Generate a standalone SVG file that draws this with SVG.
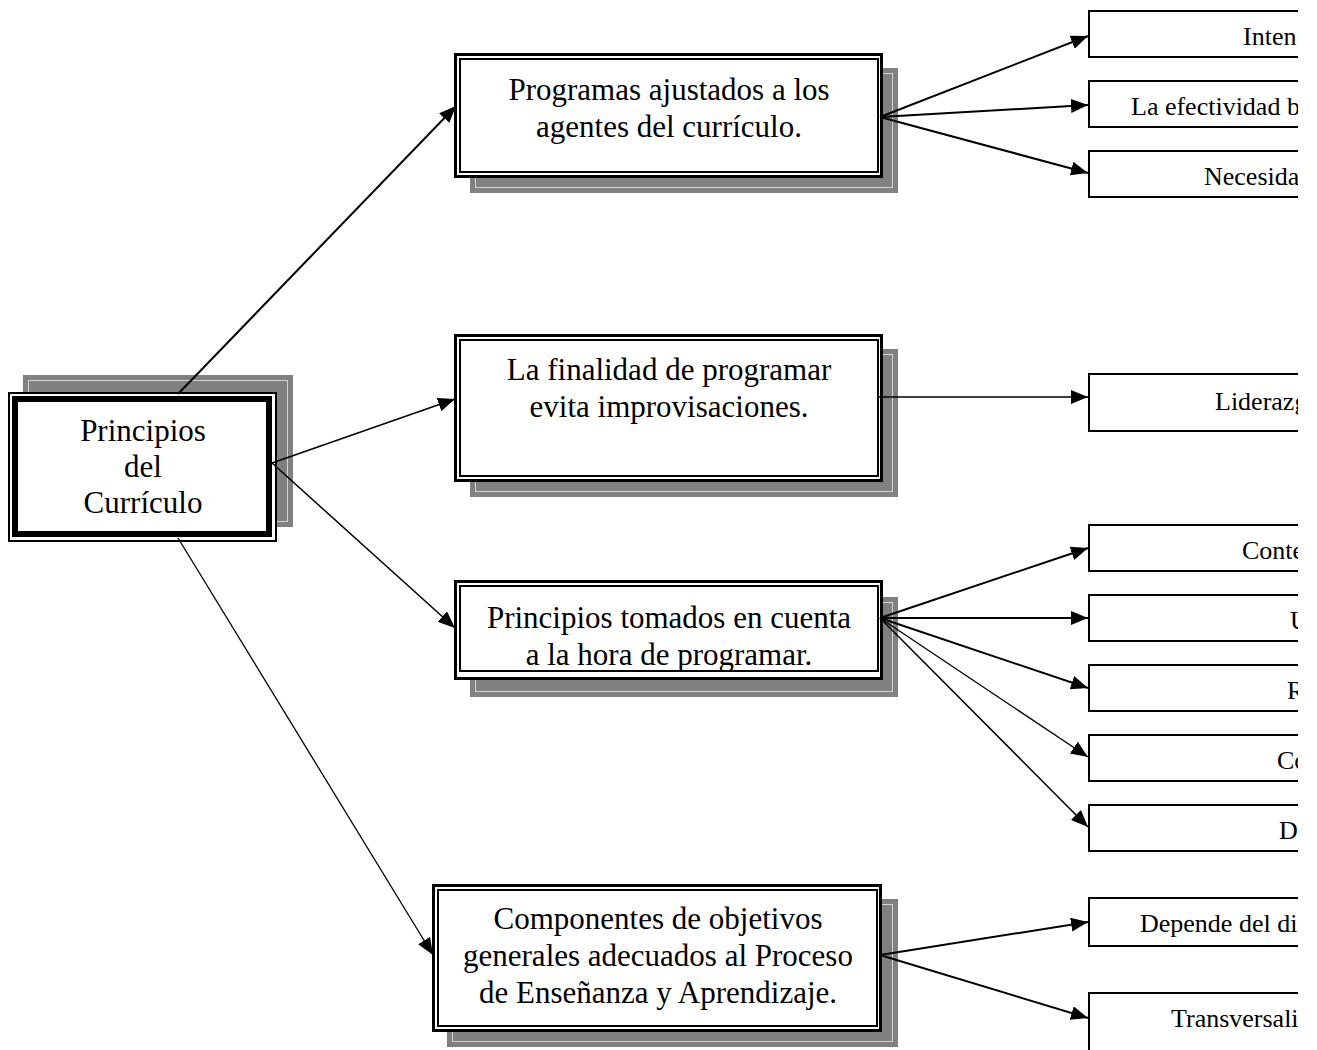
<svg xmlns="http://www.w3.org/2000/svg" width="1317" height="1050" viewBox="0 0 1317 1050">
<style>
.bg{fill:#fff}
.sh{fill:#808080}
.shl{fill:none;stroke:#d4d4d4;stroke-width:1}
.o3{fill:#fff;stroke:#000;stroke-width:3}
.i2{fill:none;stroke:#000;stroke-width:2}
.t{font-family:"Liberation Serif","Times New Roman",serif;font-size:31px;fill:#000;text-anchor:middle}
.rb{fill:#fff;stroke:#000;stroke-width:2}
.rt{font-family:"Liberation Serif","Times New Roman",serif;font-size:26px;fill:#000}
.c{fill:none;stroke:#000;stroke-width:2}
.c15{fill:none;stroke:#000;stroke-width:1.5}
.c13{fill:none;stroke:#000;stroke-width:1.3}
</style>
<defs>
<marker id="ah" markerUnits="userSpaceOnUse" markerWidth="18" markerHeight="14" refX="17" refY="7" orient="auto">
<path d="M0,0 L17,7 L0,14 z" fill="#000"/>
</marker>
<clipPath id="page"><rect x="0" y="0" width="1298" height="1050"/></clipPath>
<clipPath id="n3clip"><rect x="461" y="586" width="416" height="84"/></clipPath>
</defs>
<rect class="bg" x="0" y="0" width="1317" height="1050"/>

<g id="root">
<rect class="sh" x="23" y="375" width="270" height="152"/>
<rect class="shl" x="28.5" y="380.5" width="259" height="141"/>
<rect x="9" y="393" width="267" height="148" fill="#fff" stroke="#000" stroke-width="2"/>
<rect x="15" y="399" width="254" height="135" fill="#fff" stroke="#000" stroke-width="6"/>
<text class="t" x="143" y="441">Principios</text>
<text class="t" x="143" y="477">del</text>
<text class="t" x="143" y="513">Currículo</text>
</g>

<g id="n1">
<rect class="sh" x="470" y="68" width="428" height="125"/>
<rect class="shl" x="475.5" y="73.5" width="417" height="114"/>
<rect class="o3" x="455.5" y="54.5" width="426" height="122"/>
<rect class="i2" x="460" y="59" width="418" height="113"/>
<text class="t" x="669" y="100">Programas ajustados a los</text>
<text class="t" x="669" y="137">agentes del currículo.</text>
</g>

<g id="n2">
<rect class="sh" x="470" y="349" width="428" height="148"/>
<rect class="shl" x="475.5" y="354.5" width="417" height="137"/>
<rect class="o3" x="455.5" y="335.5" width="426" height="145"/>
<rect class="i2" x="460" y="340" width="418" height="136"/>
<text class="t" x="669" y="380">La finalidad de programar</text>
<text class="t" x="669" y="417">evita improvisaciones.</text>
</g>

<g id="n3">
<rect class="sh" x="470" y="597" width="428" height="100"/>
<rect class="shl" x="475.5" y="602.5" width="417" height="89"/>
<rect class="o3" x="455.5" y="581.5" width="426" height="97"/>
<rect class="i2" x="460" y="586" width="418" height="85"/>
<g clip-path="url(#n3clip)">
<text class="t" x="669" y="628">Principios tomados en cuenta</text>
<text class="t" x="669" y="665">a la hora de programar.</text>
</g>
</g>

<g id="n4">
<rect class="sh" x="447" y="899" width="451" height="148"/>
<rect class="shl" x="452.5" y="904.5" width="440" height="137"/>
<rect class="o3" x="433.5" y="885.5" width="447" height="145"/>
<rect class="i2" x="438" y="890" width="439" height="136"/>
<text class="t" x="658" y="929">Componentes de objetivos</text>
<text class="t" x="658" y="966">generales adecuados al Proceso</text>
<text class="t" x="658" y="1003">de Enseñanza y Aprendizaje.</text>
</g>

<g clip-path="url(#page)">
<g id="r1"><rect class="rb" x="1089" y="11" width="260" height="46"/><text class="rt" x="1243" y="45">Inten</text></g>
<g id="r2"><rect class="rb" x="1089" y="81" width="260" height="46"/><text class="rt" x="1131" y="115">La efectividad b</text></g>
<g id="r3"><rect class="rb" x="1089" y="151" width="260" height="46"/><text class="rt" x="1204" y="185">Necesida</text></g>
<g id="r4"><rect class="rb" x="1089" y="374" width="260" height="57"/><text class="rt" x="1215" y="410">Liderazg</text></g>
<g id="r5"><rect class="rb" x="1089" y="525" width="260" height="46"/><text class="rt" x="1242" y="559">Conte</text></g>
<g id="r6"><rect class="rb" x="1089" y="595" width="260" height="46"/><text class="rt" x="1290" y="629">U</text></g>
<g id="r7"><rect class="rb" x="1089" y="665" width="260" height="46"/><text class="rt" x="1287" y="699">R</text></g>
<g id="r8"><rect class="rb" x="1089" y="735" width="260" height="46"/><text class="rt" x="1277" y="769">Co</text></g>
<g id="r9"><rect class="rb" x="1089" y="805" width="260" height="46"/><text class="rt" x="1279" y="839">D</text></g>
<g id="r10"><rect class="rb" x="1089" y="898" width="260" height="48"/><text class="rt" x="1140" y="932">Depende del di</text></g>
<g id="r11"><rect class="rb" x="1089" y="993" width="260" height="70"/><text class="rt" x="1171" y="1027">Transversali</text></g>
</g>

<g id="connectors">
<line class="c" x1="178" y1="394" x2="456" y2="106" marker-end="url(#ah)"/>
<line class="c15" x1="272" y1="463" x2="455" y2="399" marker-end="url(#ah)"/>
<line class="c15" x1="272" y1="463" x2="455" y2="628" marker-end="url(#ah)"/>
<line class="c13" x1="178" y1="538" x2="433" y2="955" marker-end="url(#ah)"/>
<line class="c" x1="880" y1="117" x2="1088" y2="36" marker-end="url(#ah)"/>
<line class="c" x1="880" y1="117" x2="1088" y2="105" marker-end="url(#ah)"/>
<line class="c" x1="880" y1="117" x2="1088" y2="173" marker-end="url(#ah)"/>
<line class="c15" x1="879" y1="397" x2="1088" y2="397" marker-end="url(#ah)"/>
<line class="c" x1="880" y1="618" x2="1088" y2="548" marker-end="url(#ah)"/>
<line class="c" x1="880" y1="618" x2="1088" y2="618" marker-end="url(#ah)"/>
<line class="c" x1="880" y1="618" x2="1088" y2="688" marker-end="url(#ah)"/>
<line class="c13" x1="880" y1="618" x2="1088" y2="757" marker-end="url(#ah)"/>
<line class="c15" x1="880" y1="618" x2="1088" y2="827" marker-end="url(#ah)"/>
<line class="c" x1="880" y1="955" x2="1088" y2="922" marker-end="url(#ah)"/>
<line class="c" x1="880" y1="955" x2="1088" y2="1018" marker-end="url(#ah)"/>
</g>
</svg>
